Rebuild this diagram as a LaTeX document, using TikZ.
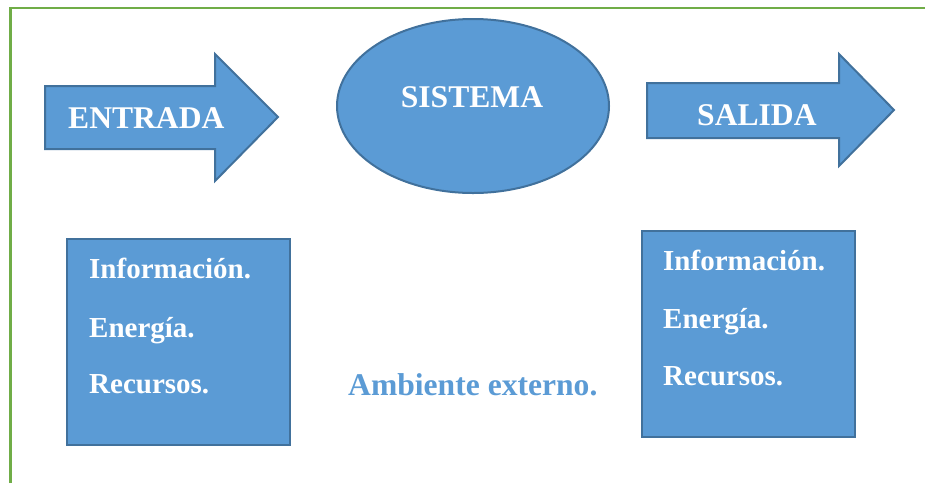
\documentclass[tikz,border=0pt]{standalone}
\usepackage{fontspec}
\setmainfont{Liberation Serif}
\usepackage{tikz}
\usepackage{xcolor}
\definecolor{shapeblue}{HTML}{5B9BD5}
\definecolor{edgeblue}{HTML}{41719C}
\definecolor{framegreen}{HTML}{70AD47}

\begin{document}
\begin{tikzpicture}[x=1pt, y=-1pt,
  shapefill/.style={fill=shapeblue, draw=edgeblue, line width=2pt, line join=miter},
  bigtext/.style={white, font=\bfseries\fontsize{31.6}{31.6}\selectfont, inner sep=0pt, anchor=base west},
  boxtext/.style={white, font=\bfseries\fontsize{29}{29}\selectfont, inner sep=0pt, anchor=base west}]

  \useasboundingbox (0,0) rectangle (925,483);

  % Frame
  \draw[framegreen, line width=2.6pt] (10.5,483) -- (10.5,8) -- (925,8);

  % Entrada
  \draw[shapefill] (45,86) -- (215,86) -- (215,54) -- (278,117) -- (215,181) -- (215,149) -- (45,149) -- cycle;
  \node[bigtext] (entrada) at (68,128) {ENTRADA};

  % Sistema
  \coordinate (S) at (473,106);
  \draw[shapefill] (S) ellipse (136 and 87);
  \node[bigtext, anchor=base] (sistema) at (472,107) {SISTEMA};

  % Salida
  \draw[shapefill] (647,83) -- (839,83) -- (839,54) -- (894,110) -- (839,166) -- (839,138) -- (647,138) -- cycle;
  \node[bigtext] (salida) at (697,125) {SALIDA};

  % Left box
  \draw[shapefill] (67,239) rectangle (290,445);
  \node[boxtext] (infoL) at (89,278) {Información.};
  \node[boxtext] (enerL) at (89,337) {Energía.};
  \node[boxtext] (recL) at (89,393) {Recursos.};

  % Right box
  \draw[shapefill] (642,231) rectangle (855,437);
  \node[boxtext] (infoR) at (663,270) {Información.};
  \node[boxtext] (enerR) at (663,328) {Energía.};
  \node[boxtext] (recR) at (663,385) {Recursos.};

  % Environment
  \node[bigtext, shapeblue] (ambiente) at (348,395) {Ambiente externo.};

\end{tikzpicture}
\end{document}
